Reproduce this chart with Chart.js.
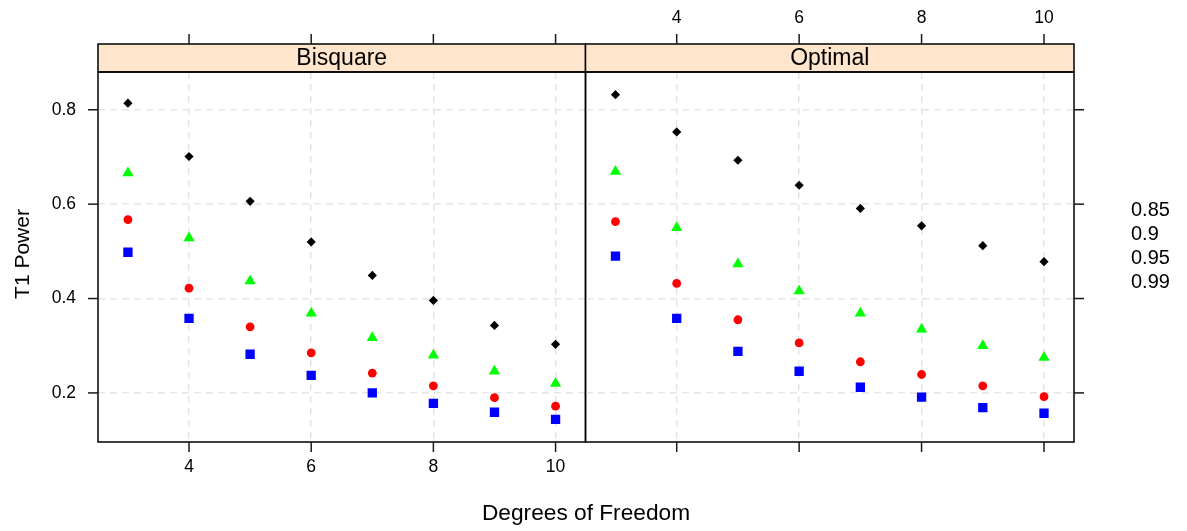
<!DOCTYPE html>
<html>
<head>
<meta charset="utf-8">
<title>T1 Power by Degrees of Freedom</title>
<script src="https://cdn.jsdelivr.net/npm/chart.js@4.4.0/dist/chart.umd.min.js"></script>
<style>
  body { margin: 0; background: #fff; }
  #wrap { position: relative; width: 1187px; height: 531px; }
  #wrap canvas { position: absolute; left: 0; top: 0; }
</style>
</head>
<body>
<div id="wrap">
  <canvas id="bisquareChart" width="1187" height="531"></canvas>
  <canvas id="optimalChart" width="1187" height="531"></canvas>
</div>
<script>
// data
const dof = [3, 4, 5, 6, 7, 8, 9, 10];
const levels = ['0.85', '0.9', '0.95', '0.99'];
const xTicks = [4, 6, 8, 10];
const yTicks = [0.2, 0.4, 0.6, 0.8];

const bisquare85 = [0.814, 0.701, 0.606, 0.520, 0.449, 0.396, 0.343, 0.303];
const bisquare90 = [0.666, 0.528, 0.437, 0.369, 0.317, 0.280, 0.246, 0.220];
const bisquare95 = [0.567, 0.422, 0.340, 0.285, 0.242, 0.215, 0.190, 0.172];
const bisquare99 = [0.498, 0.358, 0.282, 0.237, 0.200, 0.178, 0.159, 0.144];

const optimal85 = [0.832, 0.753, 0.693, 0.640, 0.591, 0.554, 0.512, 0.478];
const optimal90 = [0.669, 0.550, 0.473, 0.416, 0.369, 0.335, 0.300, 0.275];
const optimal95 = [0.563, 0.432, 0.355, 0.306, 0.266, 0.239, 0.215, 0.192];
const optimal99 = [0.490, 0.358, 0.288, 0.246, 0.212, 0.191, 0.169, 0.157];

// layout / style
const W = 1187, H = 531;
const STRIP_TOP = 44, PANEL_TOP = 72, PANEL_BOTTOM = 442;
const PANEL_LEFT = 98, PANEL_MID = 585.5, PANEL_RIGHT = 1074;
const X_RANGE = [2.51, 10.49];
const Y_RANGE = [0.096, 0.880];
const TICK_LEN = 10;
const FONT = "'Liberation Sans', Arial, Helvetica, sans-serif";
const GRID_COLOR = '#e6e6e6';
const STRIP_FILL = '#ffe5cc';

const markers = [
  { color: '#000000', style: 'rectRot', radius: 4.6 },
  { color: '#00ff00', style: 'triangle', radius: 6.5 },
  { color: '#ff0000', style: 'circle', radius: 4.4 },
  { color: '#0000ff', style: 'rect', radius: 6.6 }
];

function buildDatasets(series) {
  return series.map((values, i) => ({
    label: levels[i],
    data: dof.map((d, j) => ({ x: d, y: values[j] })),
    showLine: false,
    pointStyle: markers[i].style,
    pointRadius: markers[i].radius,
    pointHoverRadius: markers[i].radius,
    pointBackgroundColor: markers[i].color,
    pointBorderColor: markers[i].color,
    pointBorderWidth: 0
  }));
}

function line(ctx, x1, y1, x2, y2) {
  ctx.beginPath();
  ctx.moveTo(x1, y1);
  ctx.lineTo(x2, y2);
  ctx.stroke();
}

// strip, frame and tick marks for one lattice panel
function panelPlugin(name, ySide, extra) {
  return {
    id: 'latticePanel',
    afterDraw(chart) {
      const { ctx, chartArea: a, scales } = chart;
      const w = a.right - a.left;
      ctx.save();

      ctx.fillStyle = STRIP_FILL;
      ctx.fillRect(a.left, STRIP_TOP, w, a.top - STRIP_TOP);
      ctx.strokeStyle = '#000';
      ctx.lineWidth = 1.5;
      ctx.strokeRect(a.left, STRIP_TOP, w, a.top - STRIP_TOP);
      ctx.strokeRect(a.left, a.top, w, a.bottom - a.top);

      ctx.fillStyle = '#000';
      ctx.font = '23px ' + FONT;
      ctx.textAlign = 'center';
      ctx.textBaseline = 'middle';
      ctx.fillText(name, a.left + w / 2, (STRIP_TOP + a.top) / 2 + 1);

      ctx.strokeStyle = '#1a1a1a';
      ctx.lineWidth = 1.5;
      xTicks.forEach(v => {
        const px = scales.x.getPixelForValue(v);
        line(ctx, px, STRIP_TOP - TICK_LEN, px, STRIP_TOP);
        line(ctx, px, a.bottom, px, a.bottom + TICK_LEN);
      });
      yTicks.forEach(v => {
        const py = scales.y.getPixelForValue(v);
        if (ySide === 'left') line(ctx, a.left - TICK_LEN, py, a.left, py);
        else line(ctx, a.right, py, a.right + TICK_LEN, py);
      });

      if (extra) extra(ctx, a);
      ctx.restore();
    }
  };
}

function axisX(position, showLabels, padding) {
  return {
    type: 'linear',
    position: position,
    min: X_RANGE[0],
    max: X_RANGE[1],
    afterBuildTicks: s => { s.ticks = xTicks.map(v => ({ value: v })); },
    afterFit: s => { s.height = position === 'top' ? PANEL_TOP : H - PANEL_BOTTOM; },
    grid: { color: GRID_COLOR, lineWidth: 1.5, drawTicks: false },
    border: { display: false, dash: [7, 5] },
    ticks: {
      display: showLabels,
      color: '#000',
      padding: padding,
      maxRotation: 0,
      font: { family: FONT, size: 17.5, lineHeight: 1.2 }
    }
  };
}

function axisY(showLabels, width) {
  return {
    type: 'linear',
    position: 'left',
    min: Y_RANGE[0],
    max: Y_RANGE[1],
    afterBuildTicks: s => { s.ticks = yTicks.map(v => ({ value: v })); },
    afterFit: s => { s.width = width; },
    grid: { color: GRID_COLOR, lineWidth: 1.5, drawTicks: false },
    border: { display: false, dash: [7, 5] },
    ticks: {
      display: showLabels,
      color: '#000',
      padding: 22,
      callback: v => String(v),
      font: { family: FONT, size: 17.5, lineHeight: 1.2 }
    }
  };
}

const baseOptions = {
  responsive: false,
  animation: false,
  devicePixelRatio: 1,
  events: [],
  plugins: { legend: { display: false }, tooltip: { enabled: false }, title: { display: false } }
};

// left panel: Bisquare, with y labels, bottom x labels and axis titles
new Chart(document.getElementById('bisquareChart'), {
  type: 'scatter',
  data: { datasets: buildDatasets([bisquare85, bisquare90, bisquare95, bisquare99]) },
  options: Object.assign({}, baseOptions, {
    layout: { padding: { left: 0, top: PANEL_TOP, right: W - PANEL_MID, bottom: 0 } },
    scales: { x: axisX('bottom', true, 14.5), y: axisY(true, PANEL_LEFT) }
  }),
  plugins: [panelPlugin('Bisquare', 'left', (ctx, a) => {
    ctx.fillStyle = '#000';
    ctx.textAlign = 'center';
    ctx.textBaseline = 'middle';
    ctx.font = '22.7px ' + FONT;
    ctx.fillText('Degrees of Freedom', (PANEL_LEFT + PANEL_RIGHT) / 2, 514);
    ctx.font = '21px ' + FONT;
    ctx.save();
    ctx.translate(23, (a.top + a.bottom) / 2 - 3);
    ctx.rotate(-Math.PI / 2);
    ctx.fillText('T1 Power', 0, 0);
    ctx.restore();
  })]
});

// right panel: Optimal, with top x labels, right ticks and the key
new Chart(document.getElementById('optimalChart'), {
  type: 'scatter',
  data: { datasets: buildDatasets([optimal85, optimal90, optimal95, optimal99]) },
  options: Object.assign({}, baseOptions, {
    layout: { padding: { left: 0, top: 0, right: W - PANEL_RIGHT, bottom: H - PANEL_BOTTOM } },
    scales: { x: axisX('top', true, 43.5), y: axisY(false, PANEL_MID) }
  }),
  plugins: [panelPlugin('Optimal', 'right', ctx => {
    ctx.fillStyle = '#000';
    ctx.font = '20px ' + FONT;
    ctx.textAlign = 'left';
    ctx.textBaseline = 'middle';
    levels.forEach((lab, i) => ctx.fillText(lab, 1131, 210 + i * 24.3));
  })]
});
</script>
</body>
</html>
